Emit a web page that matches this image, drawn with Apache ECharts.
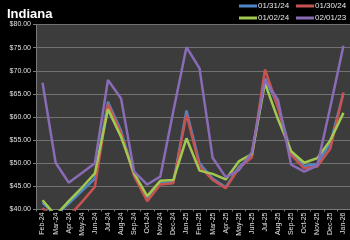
<!DOCTYPE html>
<html>
<head>
<meta charset="utf-8">
<script src="https://cdn.jsdelivr.net/npm/echarts@6/dist/echarts.min.js"></script>
<style>
html,body{margin:0;padding:0;background:#000;}
#c{width:350px;height:240px;}
</style>
</head>
<body>
<div id="c"></div>
<script>
var categories = ['Feb-24','Mar-24','Apr-24','May-24','Jun-24','Jul-24','Aug-24','Sep-24','Oct-24','Nov-24','Dec-24','Jan-25','Feb-25','Mar-25','Apr-25','May-25','Jun-25','Jul-25','Aug-25','Sep-25','Oct-25','Nov-25','Dec-25','Jan-26'];
var seriesNames = ['01/31/24','01/30/24','01/02/24','02/01/23'];
var s0131_24 = [41.5, 38.8, 41.3, 44.0, 46.7, 63.3, 57.0, 47.5, 42.2, 45.6, 45.9, 61.4, 50.0, 46.7, 44.8, 49.2, 51.6, 68.4, 62.5, 52.2, 49.4, 49.8, 54.4, 65.2];
var s0130_24 = [40.3, 38.0, 38.5, 41.6, 44.9, 62.8, 56.5, 47.2, 41.8, 45.4, 45.7, 60.6, 49.4, 46.4, 44.6, 48.9, 51.3, 70.3, 62.0, 51.8, 48.9, 49.3, 53.2, 65.3];
var s0102_24 = [42.0, 38.7, 41.8, 44.7, 47.8, 61.7, 55.7, 47.8, 42.9, 46.2, 46.4, 55.4, 48.4, 47.7, 46.5, 50.4, 52.0, 67.3, 59.5, 52.6, 50.1, 51.1, 55.0, 60.9];
var s0201_23 = [67.4, 50.1, 45.8, 47.9, 50.0, 68.0, 64.0, 48.2, 45.4, 47.1, 61.3, 75.1, 70.5, 51.2, 47.0, 48.5, 52.4, 68.0, 63.7, 49.7, 48.2, 49.5, 62.2, 75.4];
var yTicks = {min: 40, max: 80, interval: 5};

var colors = ['#4f86c6', '#c65350', '#a2c94f', '#8a6bb5'];
var allData = [s0131_24, s0130_24, s0102_24, s0201_23];
var legendPos = [[239, 2], [296, 2], [239, 14], [296, 14]];

var chart = echarts.init(document.getElementById('c'), null, {renderer: 'canvas'});
var series = seriesNames.map(function (n, i) {
  return {
    name: n, type: 'line', data: allData[i], symbol: 'none', clip: true,
    lineStyle: {color: colors[i], width: 2.5}, itemStyle: {color: colors[i]},
    z: 2 + i
  };
});
var legends = seriesNames.map(function (n, i) {
  return {
    data: [n], left: legendPos[i][0], top: legendPos[i][1], orient: 'horizontal',
    icon: 'rect', itemWidth: 18, itemHeight: 3, padding: 0,
    textStyle: {color: '#e8e8e8', fontSize: 8, fontFamily: 'Liberation Sans', padding: [0, 0, 0, -4]}
  };
});
chart.setOption({
  backgroundColor: '#000000',
  animation: false,
  title: {
    text: 'Indiana', left: 2, top: 3,
    textStyle: {color: '#ffffff', fontSize: 13, fontWeight: 'bold', fontFamily: 'Liberation Sans'}
  },
  legend: legends,
  grid: {
    left: 36, right: 0, top: 24.5, bottom: 30.5,
    show: true, backgroundColor: '#3c3c3c', borderWidth: 0
  },
  xAxis: {
    type: 'category', data: categories, boundaryGap: true,
    axisLine: {show: true, lineStyle: {color: '#7a7a7a', width: 1}},
    axisTick: {show: true, length: 2, lineStyle: {color: '#7a7a7a'}},
    axisLabel: {color: '#e0e0e0', fontSize: 7, rotate: 90, interval: 0, margin: 3, fontFamily: 'Liberation Sans'},
    splitLine: {show: false}
  },
  yAxis: {
    type: 'value', min: yTicks.min, max: yTicks.max, interval: yTicks.interval,
    axisLine: {show: true, lineStyle: {color: '#7a7a7a', width: 1}},
    axisTick: {show: true, length: 3, lineStyle: {color: '#7a7a7a'}},
    axisLabel: {
      color: '#e0e0e0', fontSize: 7, margin: 5, fontFamily: 'Liberation Sans',
      formatter: function (v) { return '$' + v.toFixed(2); }
    },
    splitLine: {show: true, lineStyle: {color: '#727272', width: 1}}
  },
  series: series
});
</script>
</body>
</html>
